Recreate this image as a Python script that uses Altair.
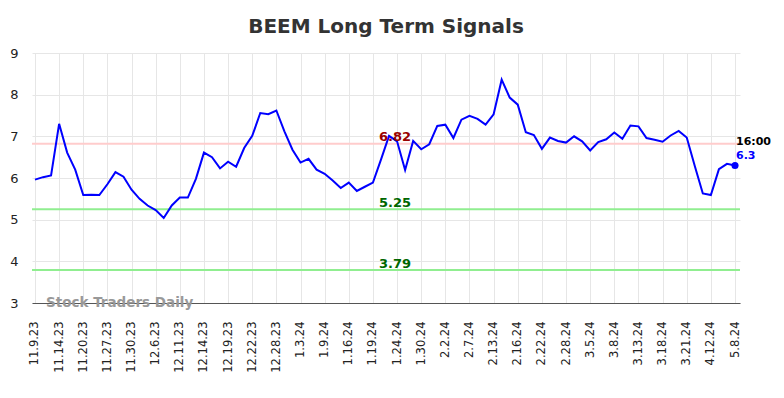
import altair as alt
import pandas as pd

labels = ["11.9.23", "11.14.23", "11.20.23", "11.27.23", "11.30.23", "12.6.23",
          "12.11.23", "12.14.23", "12.19.23", "12.22.23", "12.28.23", "1.3.24",
          "1.9.24", "1.16.24", "1.19.24", "1.24.24", "1.30.24", "2.2.24", "2.7.24",
          "2.13.24", "2.16.24", "2.22.24", "2.28.24", "3.5.24", "3.8.24", "3.13.24",
          "3.18.24", "3.21.24", "4.12.24", "5.8.24"]

values = [5.96, 6.02, 6.06, 7.30, 6.61, 6.20, 5.59, 5.60, 5.59, 5.85,
          6.14, 6.03, 5.72, 5.50, 5.34, 5.23, 5.04, 5.34, 5.53, 5.53,
          5.98, 6.61, 6.50, 6.23, 6.39, 6.27, 6.72, 7.01, 7.56, 7.53,
          7.62, 7.12, 6.68, 6.37, 6.46, 6.20, 6.10, 5.94, 5.76, 5.89,
          5.69, 5.79, 5.89, 6.44, 7.01, 6.88, 6.19, 6.89, 6.69, 6.81,
          7.25, 7.28, 6.96, 7.40, 7.49, 7.42, 7.28, 7.53, 8.36, 7.93,
          7.76, 7.10, 7.03, 6.70, 6.97, 6.89, 6.85, 7.00, 6.88, 6.66,
          6.86, 6.93, 7.09, 6.94, 7.26, 7.24, 6.96, 6.92, 6.87, 7.02,
          7.13, 6.97, 6.29, 5.63, 5.59, 6.21, 6.34, 6.30]

levels = [6.82, 5.25, 3.79]
level_line_colors = ["#ffcccc", "#90ee90", "#90ee90"]
level_text_colors = ["#990000", "#006600", "#006600"]

last_time = "16:00"

FONT = "DejaVu Sans"

idx = list(range(len(values)))
df = pd.DataFrame({"i": idx, "v": values})
tick_idx = idx[::3]
label_expr = "[" + ",".join("'%s'" % l for l in labels) + "][round(datum.value / 3)]"

xscale = alt.Scale(domain=[-0.37, 87.62], nice=False, zero=False)
yscale = alt.Scale(domain=[3, 9], nice=False, zero=False)

x_enc = alt.X("i:Q", scale=xscale, axis=alt.Axis(
    values=tick_idx, tickCount=len(tick_idx) + 10, labelExpr=label_expr,
    labelAngle=-90, title=None,
    grid=True, gridColor="#e6e6e6", gridWidth=1, domainColor="#555555",
    domainWidth=1, ticks=False, labelFontSize=11.5, labelColor="#222222",
    labelFont=FONT, labelPadding=18, labelAlign="right", labelBaseline="middle",
    labelOverlap=False, labelBound=False))
y_enc = alt.Y("v:Q", scale=yscale, axis=alt.Axis(
    values=[3, 4, 5, 6, 7, 8, 9], title=None, grid=True, gridColor="#e6e6e6",
    gridWidth=1, domain=False, ticks=False, labelFontSize=13, labelColor="#222222",
    labelFont=FONT, labelPadding=14))

base = alt.Chart(df)

layers = []
for lv, lc, tc in zip(levels, level_line_colors, level_text_colors):
    ldf = pd.DataFrame({"v": [lv], "t": ["%.2f" % lv]})
    layers.append(alt.Chart(ldf).mark_rule(color=lc, strokeWidth=2).encode(y=alt.Y("v:Q", scale=yscale)))

line = base.mark_line(color="#0000ff", strokeWidth=2).encode(x=x_enc, y=y_enc)
layers.append(line)

for lv, lc, tc in zip(levels, level_line_colors, level_text_colors):
    ldf = pd.DataFrame({"v": [lv], "t": ["%.2f" % lv]})
    layers.append(alt.Chart(ldf).mark_text(color=tc, fontSize=13, fontWeight="bold",
                                           font=FONT, dy=-6.5, align="center").encode(
        x=alt.value(363), y=alt.Y("v:Q", scale=yscale), text="t:N"))

last_df = pd.DataFrame({"i": [idx[-1]], "v": [values[-1]],
                        "t": [last_time], "vt": ["%g" % values[-1]]})
pt = alt.Chart(last_df).mark_point(filled=True, color="#0000ff", size=50, opacity=1).encode(
    x=alt.X("i:Q", scale=xscale), y=alt.Y("v:Q", scale=yscale))
t1 = alt.Chart(last_df).mark_text(color="#000000", fontSize=11, fontWeight="bold",
                                  font=FONT, align="left", dx=1, dy=-24).encode(
    x=alt.X("i:Q", scale=xscale), y=alt.Y("v:Q", scale=yscale), text="t:N")
t2 = alt.Chart(last_df).mark_text(color="#0000ff", fontSize=11, fontWeight="bold",
                                  font=FONT, align="left", dx=1, dy=-10).encode(
    x=alt.X("i:Q", scale=xscale), y=alt.Y("v:Q", scale=yscale), text="vt:N")
wm = alt.Chart(pd.DataFrame({"t": ["Stock Traders Daily"]})).mark_text(
    color="#999999", fontSize=13.5, fontWeight="bold", font=FONT, align="left",
    baseline="middle").encode(x=alt.value(14), y=alt.value(250), text="t:N")

layers += [pt, t1, t2, wm]

chart = alt.layer(*layers).properties(
    width=708, height=250,
    autosize=alt.AutoSizeParams(type="none"),
    padding={"left": 24, "top": 45, "right": 36, "bottom": 87},
    title=alt.TitleParams("BEEM Long Term Signals", fontSize=20, fontWeight="bold",
                          color="#333333", font=FONT, offset=10, anchor="middle"),
).configure_view(stroke=None)

chart.save("out.html", embed_options={"renderer": "svg", "actions": False})
